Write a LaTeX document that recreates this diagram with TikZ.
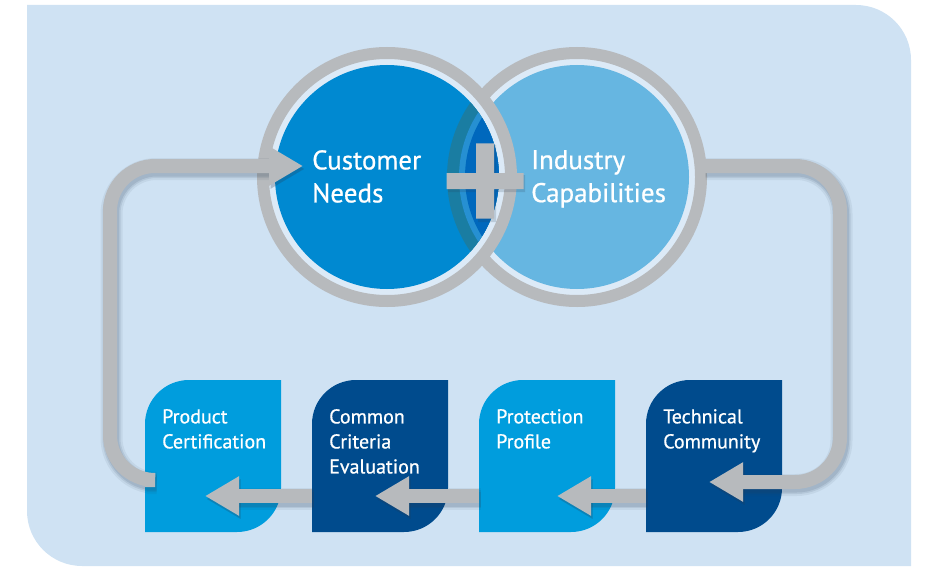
\documentclass[tikz,border=0pt]{standalone}
\usepackage{fontspec}
\setmainfont{PT Sans}
\newfontfamily\diafont{PT Sans}[FakeBold=0.7]
\usetikzlibrary{arrows.meta}
\usetikzlibrary{positioning,chains,calc}

\definecolor{bgblue}{HTML}{CFE2F3}
\definecolor{gapblue}{HTML}{DCEAF7}
\definecolor{ringgrey}{HTML}{B7BABD}
\definecolor{custblue}{HTML}{0089D1}
\definecolor{indblue}{HTML}{66B6E1}
\definecolor{lensring}{HTML}{1A7DA2}
\definecolor{lensgap}{HTML}{2690D2}
\definecolor{lensblue}{HTML}{0068BD}
\definecolor{cyanbox}{HTML}{009DDD}
\definecolor{navybox}{HTML}{004B8D}
\definecolor{dropgrey}{HTML}{2A3F55}

% grey connector with a soft shadow under it
\newcommand\greyflow[1]{%
  \draw[flowshade, line width=22pt, opacity=.07] #1;
  \draw[flowshade, line width=18pt, opacity=.10] #1;
  \draw[flowshade, line width=15pt, opacity=.12] #1;
  \draw[flow] #1;}

\begin{document}
\begin{tikzpicture}[
    x=1pt, y=1pt,
    node distance=31pt,
    start chain = C going right,
    circ/.style = {circle, minimum size=248pt, inner sep=0pt,
      fill=gapblue, draw=ringgrey, line width=12pt,
      path picture={\fill[#1] (path picture bounding box.center) circle (112pt);}},
    card/.style = {rectangle, minimum width=136pt, minimum height=152pt,
      inner sep=0pt, outer sep=0pt, on chain,% leaf shaped boxes in a row
      path picture={\fill[#1] (path picture bounding box.south west)
        -- ($(path picture bounding box.north west)+(0,-44)$) arc (180:90:44pt)
        -- (path picture bounding box.north east)
        -- ($(path picture bounding box.south east)+(0,44)$) arc (0:-90:44pt)
        -- cycle;}},
    cardtext/.style = {inner sep=0pt, align=left, text=white,
      font=\diafont\fontsize{20}{25}\selectfont},
    bigtext/.style = {anchor=north west, inner sep=0pt, align=left, text=white,
      font=\diafont\fontsize{27}{33}\selectfont},
    flow/.style = {draw=ringgrey, line width=14pt, rounded corners=45pt,
      -{Triangle[length=34pt, width=37pt]}},
    flowshade/.style = {flow, draw=dropgrey,
      transform canvas={shift={(1.5pt,-3pt)}}},
  ]
  \useasboundingbox (0,0) rectangle (925,566);
  \fill[bgblue] (911,0) -- (82,0) arc (270:180:55) -- (27,561)
    -- (856,561) arc (90:0:55) -- cycle;

  % the two circles
  \node[circ=indblue] (ic) at (577,389) {};
  \node[circ=custblue] (cn) at (387,389) {};
  \begin{scope}
    \clip (cn.center) circle (112pt);
    \fill[lensring] (ic.center) circle (130pt);
    \fill[lensgap] (ic.center) circle (118pt);
    \fill[lensblue] (ic.center) circle (112pt);
  \end{scope}
  \node[bigtext] (cn-t) at ($(cn.center)+(-75,27)$) {Customer\\Needs};
  \node[bigtext] (ic-t) at ($(ic.center)+(-46,27)$) {Industry\\Capabilities};

  % plus sign
  \coordinate (plus) at ($(cn.center)!.5!(ic.center)+(3,-4)$);
  \begin{scope}[shift={(plus)}]
    \fill[dropgrey, opacity=.18] (-37,-11) rectangle (40,6) (-7,-41) rectangle (11,36);
    \fill[ringgrey] (-38.5,-8) rectangle (38.5,8) (-9,-37.5) rectangle (9,37.5);
  \end{scope}

  % boxes
  \node[card=cyanbox, at={(213,110)}] (pc) {};
  \node[card=navybox] (cc) {};
  \node[card=cyanbox] (pp) {};
  \node[card=navybox] (tc) {};
  \node[cardtext, below right=29pt and 17pt of pc.north west] (pc-t) {Product\\Certification};
  \node[cardtext, below right=29pt and 17pt of cc.north west] (cc-t) {Common\\Criteria\\Evaluation};
  \node[cardtext, below right=29pt and 17pt of pp.north west] (pp-t) {Protection\\Profile};
  \node[cardtext, below right=29pt and 17pt of tc.north west] (tc-t) {Technical\\Community};

  % loop
  \coordinate (wl) at (110,0);
  \coordinate (wr) at (840,0);
  \coordinate (pc-out) at ([yshift=-24pt]pc.west);
  \coordinate (cn-in) at ([xshift=-84pt,yshift=11pt]cn.center);
  \coordinate (ic-out) at ([xshift=-3pt,yshift=11pt]ic.east);
  \coordinate (tc-in) at ([xshift=63pt,yshift=-26pt]tc.west);
  \greyflow{(pc-out) -- (pc-out -| wl) -- (wl |- cn-in) -- (cn-in)}
  \greyflow{(ic-out) -- (ic-out -| wr) -- (wr |- tc-in) -- (tc-in)}
  \foreach \a/\b/\d in {cc/pc/60, pp/cc/63, tc/pp/78}
    {\greyflow{([yshift=-40pt]\a.west) -- ([xshift=\d pt,yshift=-40pt]\b.west)}}
\end{tikzpicture}
\end{document}
